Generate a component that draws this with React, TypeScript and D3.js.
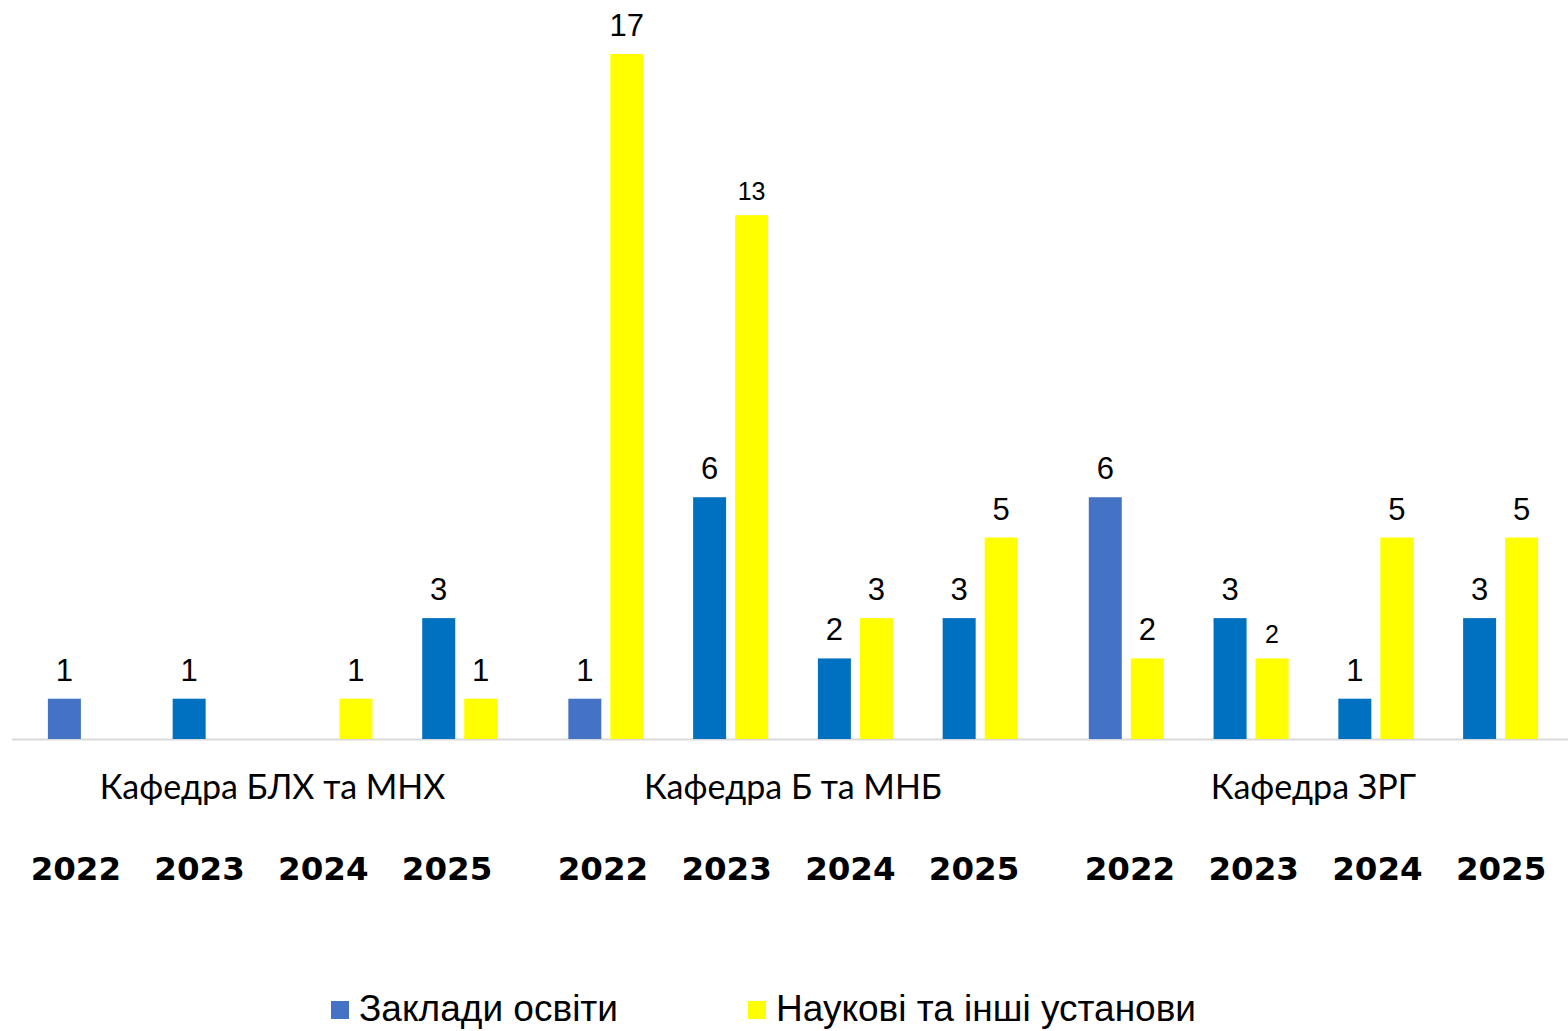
import React, { useEffect, useRef } from "react";
import * as d3 from "d3";

const departments = ["Кафедра БЛХ та МНХ", "Кафедра Б та МНБ", "Кафедра ЗРГ"];
const years = ["2022", "2023", "2024", "2025"];
// null = no bar
const education: (number | null)[][] = [
  [1, 1, null, 3],
  [1, 6, 2, 3],
  [6, 3, 1, 3],
];
const science: (number | null)[][] = [
  [null, null, 1, 1],
  [17, 13, 3, 5],
  [2, 2, 5, 5],
];
const seriesNames = ["Заклади освіти", "Наукові та інші установи"];

const W = 1568;
const H = 1031;

const App = () => {
  const svgRef = useRef<SVGSVGElement>(null);

  useEffect(() => {
    const svg = d3.select(svgRef.current).attr("width", W).attr("height", H);
    svg.selectAll("*").remove();

    const baseY = 739;
    const y = d3.scaleLinear().domain([0, 17]).range([baseY, 54]);

    // bar positions
    const xGroup = d3.scaleBand().domain(departments).range([23, 1563]).paddingInner(0.041);
    const xYear = d3.scaleBand().domain(years).range([0, xGroup.bandwidth()]);
    const barW = 33;
    const gap = 9;
    const pairW = barW * 2 + gap;

    // label positions (category axis)
    const lGroup = d3.scaleBand().domain(departments).range([14, 1563]).paddingInner(0.061);
    const lYear = d3.scaleBand().domain(years).range([0, lGroup.bandwidth()]);

    const blue = "#0070C0";
    const blueFirst = "#4472C4";
    const yellow = "#FFFF00";
    const smallLabels = new Set(["1-1", "2-1"]);

    // axis line
    svg.append("line")
      .attr("x1", 12).attr("x2", W)
      .attr("y1", baseY + 0.5).attr("y2", baseY + 0.5)
      .attr("stroke", "#d9d9d9").attr("stroke-width", 2);

    departments.forEach((dep, gi) => {
      years.forEach((yr, yi) => {
        const slotX = xGroup(dep)! + xYear(yr)! + (xYear.bandwidth() - pairW) / 2;
        const pairs: [number | null, number, string][] = [
          [education[gi][yi], slotX, yi === 0 ? blueFirst : blue],
          [science[gi][yi], slotX + barW + gap, yellow],
        ];
        pairs.forEach(([v, bx, col], si) => {
          if (v == null) return;
          svg.append("rect")
            .attr("x", bx).attr("y", y(v))
            .attr("width", barW).attr("height", baseY - y(v))
            .attr("fill", col);
          const small = si === 1 && smallLabels.has(`${gi}-${yi}`);
          svg.append("text")
            .attr("x", bx + barW / 2)
            .attr("y", y(v) - (small ? 15 : 18))
            .attr("text-anchor", "middle")
            .style("font-family", "'Liberation Sans', Arial, sans-serif")
            .style("font-size", small ? "25px" : "31px")
            .attr("fill", "#000")
            .text(v);
        });

        svg.append("text")
          .attr("x", lGroup(dep)! + lYear(yr)! + lYear.bandwidth() / 2)
          .attr("y", 880)
          .attr("text-anchor", "middle")
          .style("font-family", "'DejaVu Sans', Verdana, sans-serif")
          .style("font-weight", "bold")
          .style("font-size", "32.5px")
          .attr("fill", "#000")
          .text(yr);
      });

      svg.append("text")
        .attr("x", xGroup(dep)! + xGroup.bandwidth() / 2)
        .attr("y", 799)
        .attr("text-anchor", "middle")
        .style("font-family", "Lato, 'Open Sans', sans-serif")
        .style("font-size", "34px")
        .attr("fill", "#000")
        .text(dep);
    });

    // legend
    const legend = [
      { name: seriesNames[0], color: blueFirst, x: 331, len: 259 },
      { name: seriesNames[1], color: yellow, x: 748, len: 420 },
    ];
    legend.forEach((l) => {
      svg.append("rect")
        .attr("x", l.x).attr("y", 1001)
        .attr("width", 18).attr("height", 18)
        .attr("fill", l.color);
      svg.append("text")
        .attr("x", l.x + 28)
        .attr("y", 1021)
        .attr("textLength", l.len)
        .attr("lengthAdjust", "spacingAndGlyphs")
        .style("font-family", "'Liberation Sans', Arial, sans-serif")
        .style("font-size", "36px")
        .attr("fill", "#000")
        .text(l.name);
    });
  }, []);

  return (
    <svg
      ref={svgRef}
      style={{ position: "absolute", left: 0, top: 0, display: "block" }}
    ></svg>
  );
};

export default App;
